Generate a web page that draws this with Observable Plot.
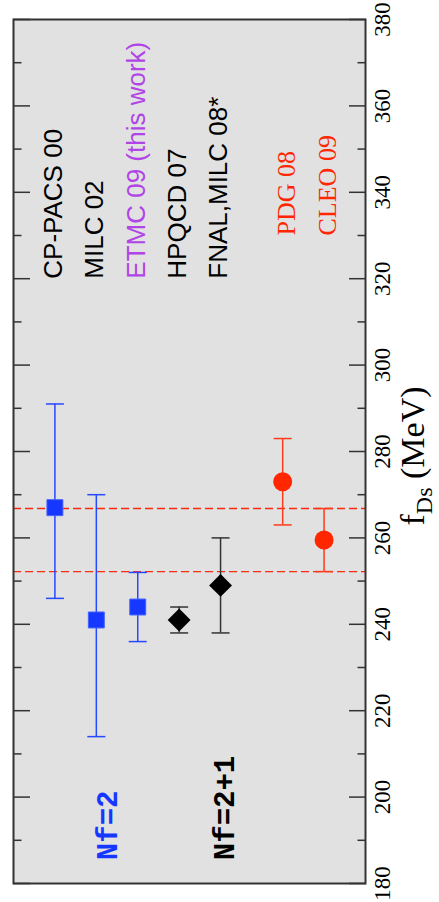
<!DOCTYPE html>
<html>
<head>
<meta charset="utf-8">
<script src="https://cdn.jsdelivr.net/npm/d3@7"></script>
<script src="https://cdn.jsdelivr.net/npm/@observablehq/plot@0.6"></script>
<style>
  html, body { margin: 0; padding: 0; background: #fff; }
  #chart svg { display: block; }
</style>
</head>
<body>
<div id="chart"></div>
<script>
// f_Ds determinations: lattice (Nf=2, Nf=2+1) and experiment
const names   = ["CP-PACS 00", "MILC 02", "ETMC 09 (this work)", "HPQCD 07", "FNAL,MILC 08*", "PDG 08", "CLEO 09"];
const central = [267, 241, 244, 241, 249, 273, 259.5];
const upper   = [291, 270, 252, 244, 260, 283, 266.8];
const lower   = [246, 214, 236, 238, 238, 263, 252.2];
const slots   = [1, 2, 3, 4, 5, 6.5, 7.5];
const groups  = ["nf2", "nf2", "nf2", "nf21", "nf21", "exp", "exp"];

// group labels
const groupNames = ["Nf=2", "Nf=2+1"];
const groupSlots = [2.27, 5.1];
const groupColors = ["#1637ff", "#000000"];

// experimental band (CLEO 09)
const band = [lower[6], upper[6]];

const majorTicks = d3.range(180, 381, 20);
const minorTicks = d3.range(190, 380, 20);

const markerColor = {nf2: "#1637ff", nf21: "#000000", exp: "#ff2600"};
const barColor    = {nf2: "#2648ff", nf21: "#333333", exp: "#ff3a18"};
const labelColor  = ["#000", "#000", "#b044e6", "#000", "#000", "#ff2600", "#ff2600"];

const rows = names.map((name, i) => ({
  name, slot: slots[i], value: central[i], hi: upper[i], lo: lower[i],
  group: groups[i], labelColor: labelColor[i]
}));
const sansRows = rows.filter(d => d.group !== "exp");
const serifRows = rows.filter(d => d.group === "exp");
const groupRows = groupNames.map((name, i) => ({name, slot: groupSlots[i], color: groupColors[i]}));

// horizontal cap for the error bars
const capSymbol = {
  draw(context, size) {
    const w = Math.sqrt(size / Math.PI);
    context.moveTo(-w, 0);
    context.lineTo(w, 0);
  }
};

const chart = Plot.plot({
  width: 439,
  height: 902,
  marginLeft: 13,
  marginRight: 74,
  marginTop: 19,
  marginBottom: 19,
  style: {background: "#fff"},
  x: {domain: [0, 8.5], axis: null},
  y: {domain: [180, 380]},
  marks: [
    Plot.frame({fill: "#e1e1e1", stroke: null}),
    Plot.ruleY(band, {stroke: "#ff2a10", strokeWidth: 1.3, strokeDasharray: "8,4"}),
    Plot.ruleX(rows, {x: "slot", y1: "lo", y2: "hi", stroke: d => barColor[d.group], strokeWidth: 1.5}),
    Plot.dot(rows, {x: "slot", y: "hi", symbol: capSymbol, r: 9, fill: "none", stroke: d => barColor[d.group], strokeWidth: 1.5}),
    Plot.dot(rows, {x: "slot", y: "lo", symbol: capSymbol, r: 9, fill: "none", stroke: d => barColor[d.group], strokeWidth: 1.5}),
    Plot.dot(rows.filter(d => d.group === "nf2"), {x: "slot", y: "value", symbol: "square", r: 9, fill: markerColor.nf2, stroke: "#4563ff", strokeWidth: 1}),
    Plot.dot(rows.filter(d => d.group === "nf21"), {x: "slot", y: "value", symbol: "diamond2", r: 10.3, fill: markerColor.nf21, stroke: null}),
    Plot.dot(rows.filter(d => d.group === "exp"), {x: "slot", y: "value", symbol: "circle", r: 9.5, fill: markerColor.exp, stroke: null}),
    // names of the determinations
    Plot.text(sansRows, {x: "slot", y: 320, text: "name", rotate: -90, textAnchor: "start", lineAnchor: "middle",
      dx: -1.5, fill: "labelColor", fontSize: 26, fontFamily: "Liberation Sans"}),
    Plot.text(serifRows, {x: "slot", y: 330, text: "name", rotate: -90, textAnchor: "start", lineAnchor: "middle",
      dx: 4, fill: "labelColor", fontSize: 26, fontFamily: "Liberation Serif"}),
    Plot.text(groupRows, {x: "slot", y: 185.4, text: "name", rotate: -90, textAnchor: "start", lineAnchor: "middle",
      fill: "color", fontSize: 29, fontWeight: "bold", fontFamily: "Liberation Mono"}),
    // inward ticks on both sides
    Plot.axisY({anchor: "left", ticks: majorTicks, tickSize: -17, tickFormat: () => "", stroke: "#333", strokeWidth: 1.5, label: null}),
    Plot.axisY({anchor: "left", ticks: minorTicks, tickSize: -8.5, tickFormat: () => "", stroke: "#333", strokeWidth: 1.5, label: null}),
    Plot.axisY({anchor: "right", ticks: majorTicks, tickSize: -17, tickFormat: () => "", stroke: "#333", strokeWidth: 1.5, label: null}),
    Plot.axisY({anchor: "right", ticks: minorTicks, tickSize: -8.5, tickFormat: () => "", stroke: "#333", strokeWidth: 1.5, label: null}),
    // tick labels on the right
    Plot.axisY({anchor: "right", ticks: majorTicks, tickSize: 0, tickRotate: -90, tickPadding: 8,
      textAnchor: "middle", lineAnchor: "top", tickFormat: d => String(d),
      fontSize: 23, fontFamily: "Liberation Serif", fill: "#000", label: null}),
    Plot.frame({stroke: "#333", strokeWidth: 2})
  ]
});

// axis title with subscript
const yScale = chart.scale("y");
const xScale = chart.scale("x");
const titleX = xScale.range[1] + 59;
const titleY = (yScale.range[0] + yScale.range[1]) / 2 + 5;
const title = d3.select(chart).append("text")
  .attr("transform", `translate(${titleX},${titleY}) rotate(-90)`)
  .attr("text-anchor", "middle")
  .attr("font-family", "Liberation Serif")
  .attr("font-size", 34)
  .attr("fill", "#000");
title.append("tspan").text("f");
title.append("tspan").attr("font-size", 24).attr("dy", 8).text("Ds");
title.append("tspan").attr("dy", -8).text(" (MeV)");

document.getElementById("chart").appendChild(chart);
</script>
</body>
</html>
